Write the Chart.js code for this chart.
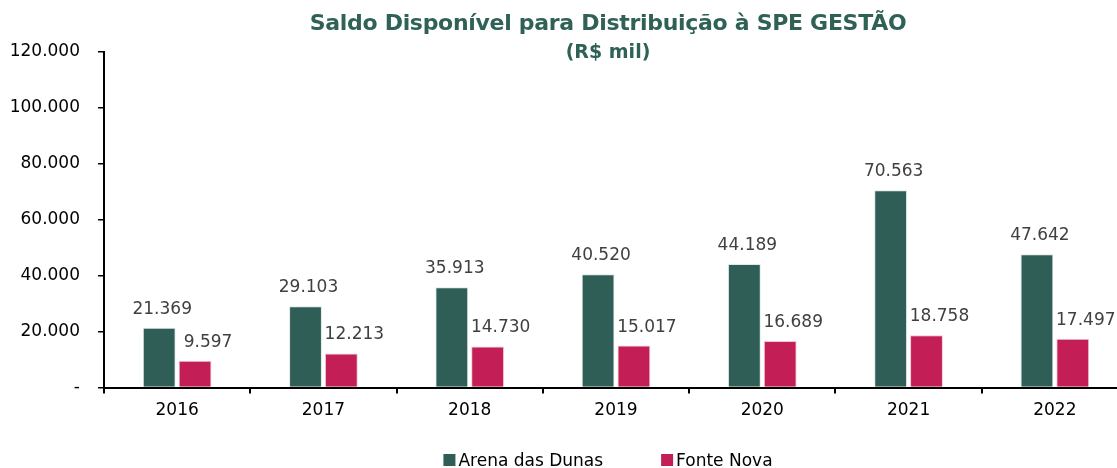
<!DOCTYPE html>
<html><head><meta charset="utf-8">
<script src="https://cdn.jsdelivr.net/npm/chart.js@4/dist/chart.umd.min.js"></script>
<style>html,body{margin:0;padding:0;background:#fff;overflow:hidden}#wrap{width:1117px;height:468px;overflow:hidden}</style>
</head><body><div id="wrap"><canvas id="c" width="1130" height="468" style="width:1130px;height:468px"></canvas></div>
<script>
const categories = ['2016','2017','2018','2019','2020','2021','2022'];
const arenaDasDunas = [21369, 29103, 35913, 40520, 44189, 70563, 47642];
const fonteNova = [9597, 12213, 14730, 15017, 16689, 18758, 17497];
const seriesNames = ['Arena das Dunas', 'Fonte Nova'];
const seriesColors = ['#2E5E56', '#C41E57'];
const titleLines = ['Saldo Disponível para Distribuição à SPE GESTÃO', '(R$ mil)'];
const yTicks = [0, 20000, 40000, 60000, 80000, 100000, 120000];

const fmt = v => v === 0 ? '-' : v.toLocaleString('pt-BR');
const FONT = "'DejaVu Sans', sans-serif";
const LABEL_DX = [3, 13];

const labelPlugin = {
  id: 'valueLabels',
  afterDatasetsDraw(chart) {
    const ctx = chart.ctx;
    ctx.save();
    ctx.font = '17px ' + FONT;
    ctx.fillStyle = '#404040';
    ctx.textAlign = 'center';
    ctx.textBaseline = 'alphabetic';
    chart.data.datasets.forEach((ds, i) => {
      chart.getDatasetMeta(i).data.forEach((bar, j) => {
        ctx.fillText(fmt(ds.data[j]), bar.x + LABEL_DX[i], bar.y - 14);
      });
    });
    ctx.restore();
  }
};
const titlePlugin = {
  id: 'customTitle',
  afterDraw(chart) {
    const ctx = chart.ctx;
    ctx.save();
    ctx.fillStyle = '#2F6157';
    ctx.textAlign = 'center';
    ctx.textBaseline = 'alphabetic';
    ctx.font = 'bold 22px ' + FONT;
    ctx.letterSpacing = '-0.3px';
    ctx.fillText(titleLines[0], 608, 30);
    ctx.font = 'bold 19px ' + FONT;
    ctx.letterSpacing = '0px';
    ctx.fillText(titleLines[1], 608, 58);
    // legend
    ctx.font = '17px ' + FONT;
    ctx.textAlign = 'left';
    const gapBox = 3, gapItem = 58, box = 12;
    const widths = seriesNames.map(n => ctx.measureText(n).width);
    let total = 0;
    widths.forEach((w, i) => { total += box + gapBox + w + (i < widths.length - 1 ? gapItem : 0); });
    let x = 608 - total / 2;
    seriesNames.forEach((n, i) => {
      ctx.fillStyle = seriesColors[i];
      ctx.fillRect(x, 454, box, box);
      ctx.fillStyle = '#000';
      ctx.fillText(n, x + box + gapBox, 466);
      x += box + gapBox + widths[i] + gapItem;
    });
    ctx.restore();
  }
};

new Chart(document.getElementById('c'), {
  type: 'bar',
  data: {
    labels: categories,
    datasets: [
      { label: seriesNames[0], data: arenaDasDunas, backgroundColor: seriesColors[0], borderColor: '#dfe9e6', borderWidth: 1, barPercentage: 0.917, categoryPercentage: 0.49 },
      { label: seriesNames[1], data: fonteNova, backgroundColor: seriesColors[1], borderColor: '#f0c8d6', borderWidth: 1, barPercentage: 0.917, categoryPercentage: 0.49 }
    ]
  },
  options: {
    responsive: false,
    animation: false,
    layout: { padding: { top: 52, right: 2, left: 6, bottom: 40 } },
    plugins: {
      title: { display: false },
      tooltip: { enabled: false },
      legend: { display: false }
    },
    scales: {
      x: {
        grid: { display: true, drawOnChartArea: false, offset: true, tickLength: 6, color: '#000', lineWidth: 2 },
        border: { color: '#000', width: 2 },
        ticks: { font: { family: FONT, size: 17 }, color: '#000', padding: 7 }
      },
      y: {
        min: 0, max: 120000,
        afterBuildTicks: axis => { axis.ticks = yTicks.map(v => ({ value: v })); },
        afterFit: axis => { axis.width = 98; },
        grid: { display: true, drawOnChartArea: false, tickLength: 6, color: '#000', lineWidth: 1.5 },
        border: { color: '#000', width: 2 },
        ticks: { font: { family: FONT, size: 17 }, color: '#000', padding: 18, callback: v => fmt(v) }
      }
    }
  },
  plugins: [labelPlugin, titlePlugin]
});
</script></body></html>
